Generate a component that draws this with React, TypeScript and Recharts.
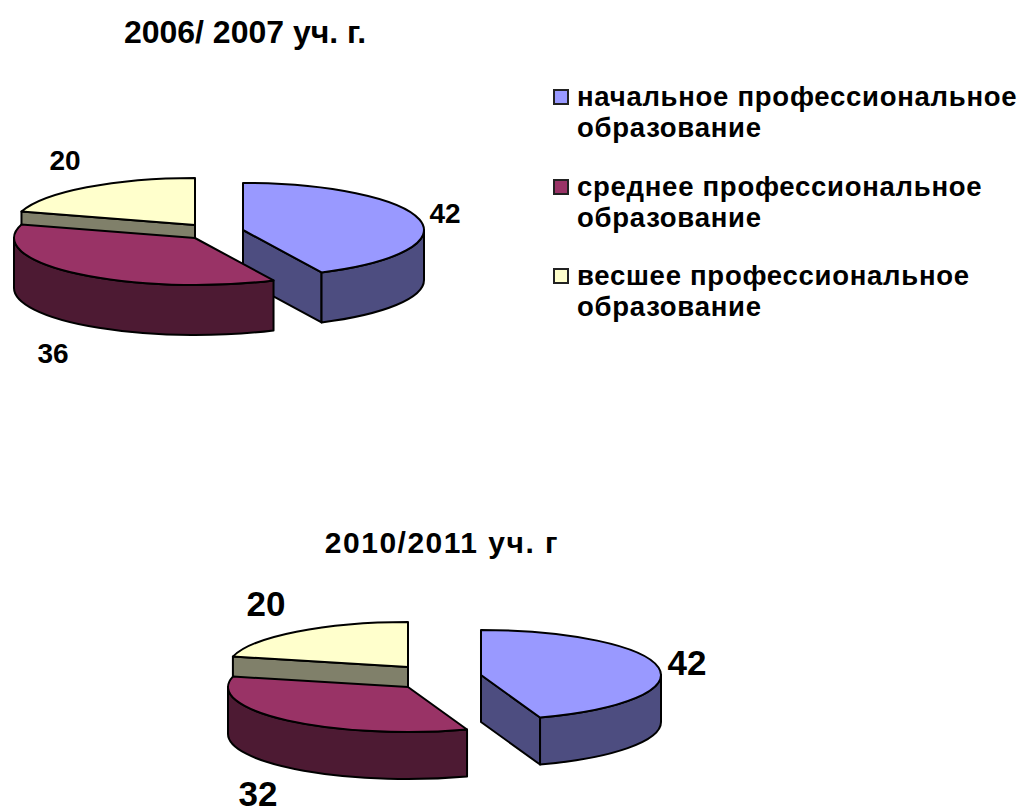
import { PieChart, Pie, Legend } from 'recharts'

const CATEGORIES = [
  'начальное профессиональное образование',
  'среднее профессиональное образование',
  'весшее профессиональное образование',
]
const VALUES_2006 = [42, 36, 20]
const VALUES_2010 = [42, 32, 20]
const TITLE_2006 = '2006/ 2007 уч. г.'
const TITLE_2010 = '2010/2011 уч. г'

const COLORS = ['#9999ff', '#993366', '#ffffcc']
const SIDE_COLORS = ['#4d4d80', '#4d1a33', '#80806a']
const FONT = '"Liberation Sans", Arial, sans-serif'

// blue, yellow, maroon: the maroon slice has to sit on top of the blue wall
const DRAW_ORDER = [0, 2, 1]
const toRows = (values: number[]) =>
  DRAW_ORDER.map((i) => ({ name: CATEGORIES[i], value: values[i], index: i }))

// first slice ends at 12 o'clock, going counter-clockwise
const startOf = (values: number[]) => {
  const total = values.reduce((a, b) => a + b, 0)
  return 90 - (360 * values[0]) / total
}

const rad = (a: number) => (a * Math.PI) / 180

interface PieStyle {
  squash: number
  depth: number
  offsets: number[][]
  labels: number[][]
  fontSize: number
}

const STYLE_2006: PieStyle = {
  squash: 0.26,
  depth: 50,
  offsets: [[48, 5], [0, 13], [0, 0]],
  labels: [[250, -9], [-142, 131], [-130, -62]],
  fontSize: 28,
}
const STYLE_2010: PieStyle = {
  squash: 0.25,
  depth: 47,
  offsets: [[73, 8], [0, 20], [0, 0]],
  labels: [[279, -1], [-150, 130], [-142, -60]],
  fontSize: 35,
}

const slice = (style: PieStyle) => (props: any) => {
  const { cx, cy, outerRadius, startAngle, endAngle, payload } = props
  const i = payload.index
  const x0 = cx + style.offsets[i][0]
  const y0 = cy + style.offsets[i][1]
  const rx = outerRadius
  const ry = outerRadius * style.squash
  const d = style.depth
  const s = Math.min(startAngle, endAngle)
  const e = Math.max(startAngle, endAngle)
  const pt = (a: number) => [x0 + rx * Math.cos(rad(a)), y0 - ry * Math.sin(rad(a))]
  const line = { stroke: '#000', strokeWidth: 2, strokeLinejoin: 'round' as const }

  const walls: string[] = []
  const radial = (a: number) => {
    const p = pt(a)
    walls.push(`M${x0},${y0} L${p[0]},${p[1]} L${p[0]},${p[1] + d} L${x0},${y0 + d} Z`)
  }
  if (Math.sin(rad(s - 90)) < -0.01) radial(s)
  if (Math.sin(rad(e + 90)) < -0.01) radial(e)
  // outer wall shows only on the front half of the ellipse
  for (const [lo, hi] of [[-180, 0], [180, 360]]) {
    const a0 = Math.max(s, lo)
    const a1 = Math.min(e, hi)
    if (a1 > a0) {
      const p = pt(a0)
      const q = pt(a1)
      walls.push(
        `M${p[0]},${p[1]} A${rx},${ry} 0 0 0 ${q[0]},${q[1]} L${q[0]},${q[1] + d} A${rx},${ry} 0 0 1 ${p[0]},${p[1] + d} Z`,
      )
    }
  }
  const p = pt(s)
  const q = pt(e)
  const top = `M${x0},${y0} L${p[0]},${p[1]} A${rx},${ry} 0 ${e - s > 180 ? 1 : 0} 0 ${q[0]},${q[1]} Z`

  return (
    <g>
      {walls.map((w) => (
        <path key={w} d={w} fill={SIDE_COLORS[i]} {...line} />
      ))}
      <path d={top} fill={COLORS[i]} {...line} />
    </g>
  )
}

const valueLabel = (style: PieStyle) => (props: any) => {
  const i = props.payload?.index ?? 0
  return (
    <text
      x={props.cx + style.labels[i][0]}
      y={props.cy + style.labels[i][1]}
      textAnchor="middle"
      dominantBaseline="middle"
      fontFamily={FONT}
      fontWeight="bold"
      fontSize={style.fontSize}
      fill="#000"
    >
      {props.value}
    </text>
  )
}

const LEGEND_ROWS = [
  ['начальное профессиональное', 'образование'],
  ['среднее профессиональное', 'образование'],
  ['весшее профессиональное', 'образование'],
]

function LegendBox() {
  return (
    <div style={{ fontFamily: FONT, fontWeight: 'bold', fontSize: 27.5, lineHeight: '31px', color: '#000', letterSpacing: 0.73 }}>
      {LEGEND_ROWS.map((row, i) => (
        <div key={row[0]} style={{ position: 'relative', paddingLeft: 24, height: 89.5, whiteSpace: 'nowrap' }}>
          <span
            style={{
              position: 'absolute',
              left: 0,
              top: 8,
              width: 12,
              height: 12,
              background: COLORS[i],
              border: '2px solid #222',
            }}
          />
          <div>{row[0]}</div>
          <div>{row[1]}</div>
        </div>
      ))}
    </div>
  )
}

export default function App() {
  return (
    <div style={{ position: 'absolute', left: 0, top: 0, width: 1019, height: 808 }}>
      <PieChart width={1019} height={808} margin={{ top: 0, right: 0, bottom: 0, left: 0 }}>
        <text x={245} y={43} textAnchor="middle" fontFamily={FONT} fontWeight="bold" fontSize={32} fill="#000">
          {TITLE_2006}
        </text>
        <text x={442} y={553} textAnchor="middle" fontFamily={FONT} fontWeight="bold" fontSize={30} letterSpacing={1.5} fill="#000">
          {TITLE_2010}
        </text>
        <Pie
          data={toRows(VALUES_2006)}
          dataKey="value"
          cx={195}
          cy={225}
          outerRadius={181}
          startAngle={startOf(VALUES_2006)}
          endAngle={startOf(VALUES_2006) + 360}
          stroke="none"
          isAnimationActive={false}
          labelLine={false}
          label={valueLabel(STYLE_2006)}
          shape={slice(STYLE_2006)}
        />
        <Pie
          data={toRows(VALUES_2010)}
          dataKey="value"
          cx={408}
          cy={667}
          outerRadius={180}
          startAngle={startOf(VALUES_2010)}
          endAngle={startOf(VALUES_2010) + 360}
          stroke="none"
          isAnimationActive={false}
          labelLine={false}
          label={valueLabel(STYLE_2010)}
          shape={slice(STYLE_2010)}
        />
        <Legend
          content={() => <LegendBox />}
          wrapperStyle={{ position: 'absolute', left: 553, top: 81, width: 466, bottom: 'auto' }}
        />
      </PieChart>
    </div>
  )
}
